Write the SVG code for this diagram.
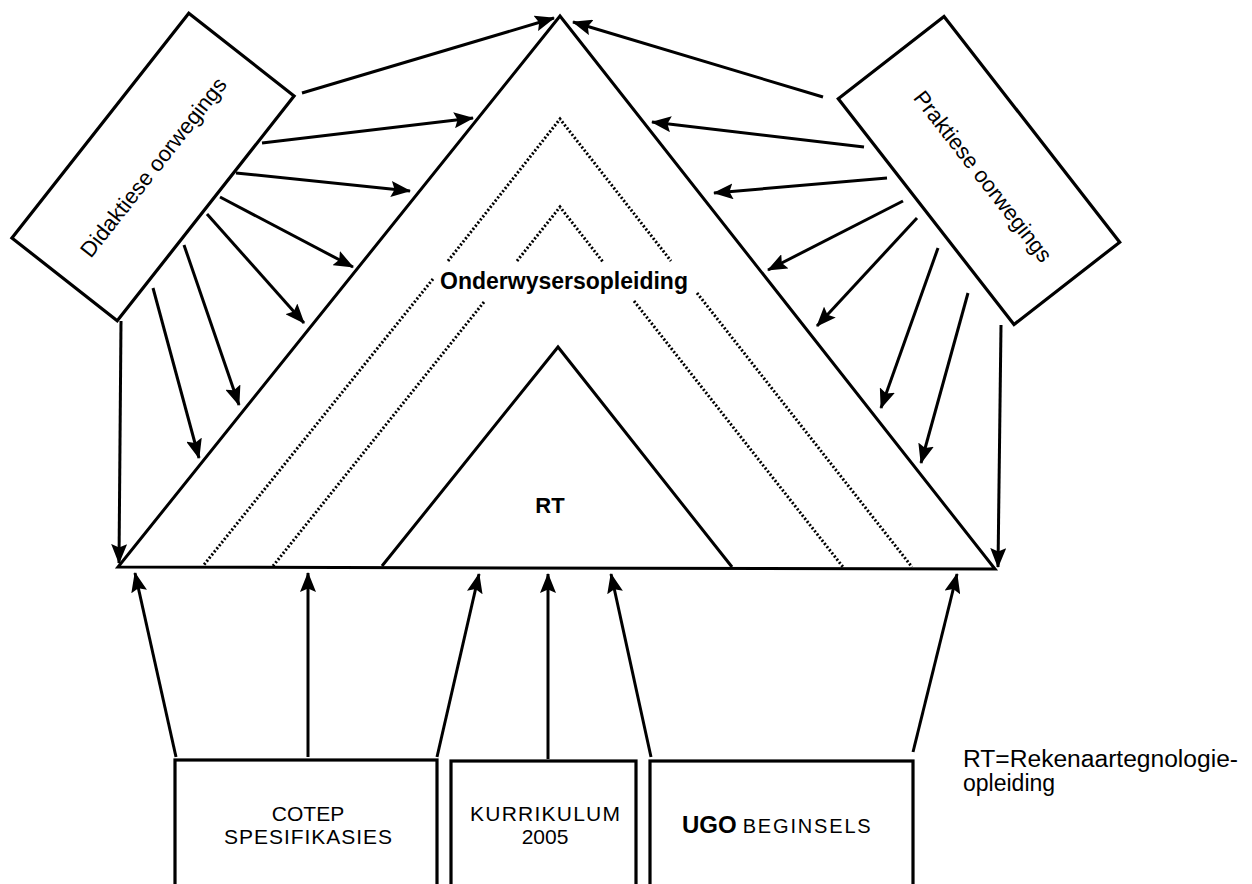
<svg xmlns="http://www.w3.org/2000/svg" width="1252" height="884" viewBox="0 0 1252 884">
<style>
.ln{fill:none;stroke:#000;stroke-width:3}
.dot{fill:none;stroke:#000;stroke-width:3;stroke-dasharray:2 2}
.box{fill:#fff;stroke:#000;stroke-width:3.2}
.ar{fill:none;stroke:#000;stroke-width:3;marker-end:url(#ah)}
.t{font-family:"Liberation Sans",Arial,sans-serif;fill:#000}
.b{font-weight:bold}
</style>
<defs>
<marker id="ah" markerUnits="userSpaceOnUse" markerWidth="20" markerHeight="16" refX="19" refY="8" orient="auto">
<path d="M0,0 L20,8 L0,16 L3.5,8 z" fill="#000"/>
</marker>
</defs>
<rect width="1252" height="884" fill="#fff"/>

<g id="triangle-outer">
<polygon class="ln" points="560,16 118,567 995,569"/>
</g>
<g id="dotted-lines">
<polyline class="dot" points="448,261 560,119 671,261"/>
<line class="dot" x1="433" y1="279" x2="203" y2="566"/>
<line class="dot" x1="697" y1="293" x2="912" y2="567"/>
<polyline class="dot" points="517,261 560,207 603,262"/>
<line class="dot" x1="484" y1="302" x2="273" y2="566"/>
<line class="dot" x1="634" y1="301" x2="843" y2="567"/>
</g>
<g id="onderwysersopleiding">
<text class="t b" x="564" y="289" font-size="23" text-anchor="middle">Onderwysersopleiding</text>
</g>
<g id="rt">
<polyline class="ln" points="382,566 558,347 732,567"/>
<text class="t b" x="550" y="513" font-size="22" text-anchor="middle">RT</text>
</g>

<g id="didaktiese">
<g transform="translate(153,167) rotate(-51.8)">
<rect class="box" x="-143" y="-67" width="286" height="134"/>
<text class="t" x="0" y="8" font-size="22" text-anchor="middle">Didaktiese oorwegings</text>
</g>
</g>
<g id="praktiese">
<g transform="translate(979,170.5) rotate(52.1)">
<rect class="box" x="-143" y="-67" width="286" height="134"/>
<text class="t" x="7" y="8" font-size="22" text-anchor="middle">Praktiese oorwegings</text>
</g>
</g>

<g id="cotep">
<rect class="box" x="175" y="760" width="262" height="140"/>
<text class="t" x="308" y="821" font-size="21" text-anchor="middle">COTEP</text>
<text class="t" x="308" y="844" font-size="21" text-anchor="middle" textLength="168" lengthAdjust="spacing">SPESIFIKASIES</text>
</g>
<g id="kurrikulum">
<rect class="box" x="451" y="761" width="185" height="140"/>
<text class="t" x="545" y="821" font-size="21" text-anchor="middle" textLength="150" lengthAdjust="spacing">KURRIKULUM</text>
<text class="t" x="545" y="844" font-size="21" text-anchor="middle">2005</text>
</g>
<g id="ugo">
<rect class="box" x="650" y="761" width="263" height="140"/>
<text class="t" x="682" y="833" font-size="24"><tspan class="b">UGO</tspan><tspan font-size="20" dx="6" textLength="128" lengthAdjust="spacing">BEGINSELS</tspan></text>
</g>
<g id="legend">
<text class="t" x="963" y="767" font-size="23" textLength="275" lengthAdjust="spacingAndGlyphs">RT=Rekenaartegnologie-</text>
<text class="t" x="963" y="791" font-size="23">opleiding</text>
</g>

<g id="connectors">
<line class="ar" x1="302" y1="93" x2="554" y2="18"/>
<line class="ar" x1="262" y1="143" x2="473" y2="118"/>
<line class="ar" x1="236" y1="173" x2="410" y2="191"/>
<line class="ar" x1="220" y1="197" x2="353" y2="267"/>
<line class="ar" x1="207" y1="214" x2="304" y2="323"/>
<line class="ar" x1="184" y1="245" x2="239" y2="405"/>
<line class="ar" x1="153" y1="288" x2="199" y2="458"/>
<line class="ar" x1="121" y1="321" x2="119" y2="563"/>
<line class="ar" x1="823" y1="97" x2="573" y2="22"/>
<line class="ar" x1="864" y1="147" x2="652" y2="122"/>
<line class="ar" x1="887" y1="178" x2="714" y2="193"/>
<line class="ar" x1="903" y1="201" x2="768" y2="270"/>
<line class="ar" x1="917" y1="218" x2="817" y2="326"/>
<line class="ar" x1="938" y1="248" x2="881" y2="408"/>
<line class="ar" x1="968" y1="293" x2="921" y2="463"/>
<line class="ar" x1="1001" y1="325" x2="998" y2="567"/>
<line class="ar" x1="176" y1="757" x2="135" y2="573"/>
<line class="ar" x1="308" y1="757" x2="308" y2="573"/>
<line class="ar" x1="437" y1="757" x2="479" y2="574"/>
<line class="ar" x1="548" y1="759" x2="548" y2="574"/>
<line class="ar" x1="651" y1="757" x2="611" y2="574"/>
<line class="ar" x1="913" y1="752" x2="957" y2="574"/>
</g>
</svg>
